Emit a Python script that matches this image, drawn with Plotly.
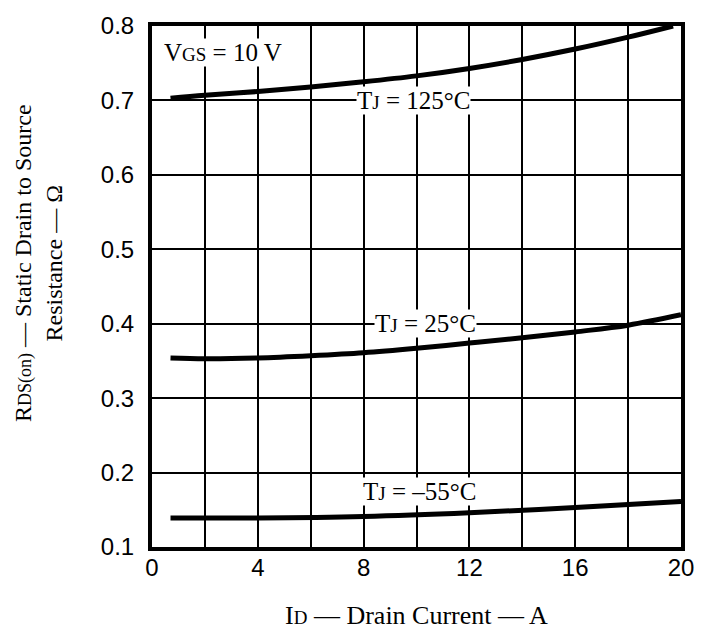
import plotly.graph_objects as go

# Data
id_125 = [0.7, 2, 4, 6, 8, 10, 12, 14, 16, 18, 19.7]
r_125 = [0.703, 0.707, 0.712, 0.718, 0.725, 0.733, 0.743, 0.755, 0.769, 0.785, 0.800]

id_25 = [0.7, 2, 4, 6, 8, 10, 12, 14, 16, 18, 20]
r_25 = [0.354, 0.353, 0.354, 0.357, 0.361, 0.367, 0.374, 0.381, 0.389, 0.398, 0.412]

id_m55 = [0.7, 4, 8, 12, 16, 20]
r_m55 = [0.139, 0.139, 0.141, 0.146, 0.153, 0.161]

x_ticks = [0, 4, 8, 12, 16, 20]
y_ticks = [0.1, 0.2, 0.3, 0.4, 0.5, 0.6, 0.7, 0.8]

SERIF = "Liberation Serif, Times New Roman, serif"
SANS = "Liberation Sans, Arial, sans-serif"

def sm(t, size):
    return f'<span style="font-size:{size}px">{t}</span>'

fig = go.Figure()
for xs, ys in [(id_125, r_125), (id_25, r_25), (id_m55, r_m55)]:
    fig.add_trace(go.Scatter(x=xs, y=ys, mode="lines",
                             line=dict(color="black", width=5, shape="spline"),
                             showlegend=False, hoverinfo="skip"))

annots = [
    dict(x=0.4, y=0.765, text="V" + sm("GS", 19) + " = 10 V", xanchor="left"),
    dict(x=9.9, y=0.70, text="T" + sm("J", 19) + " = 125°C", xanchor="center"),
    dict(x=10.35, y=0.40, text="T" + sm("J", 19) + " = 25°C", xanchor="center"),
    dict(x=10.1, y=0.174, text="T" + sm("J", 19) + " = –55°C", xanchor="center"),
]
for a in annots:
    fig.add_annotation(x=a["x"], y=a["y"], text=a["text"], xanchor=a["xanchor"],
                       yanchor="middle", showarrow=False, bgcolor="white",
                       borderpad=0,
                       font=dict(family=SERIF, size=25, color="black"))

# axis titles as annotations (positioned like the reference)
fig.add_annotation(xref="paper", yref="paper", x=0, y=0.545, xshift=-114,
                   text="R" + sm("DS(on)", 18) + " — Static Drain to Source<br>Resistance — Ω",
                   textangle=-90, showarrow=False, xanchor="center", yanchor="middle",
                   font=dict(family=SERIF, size=24, color="black"))
fig.add_annotation(xref="paper", yref="paper", x=0.5, y=0, yshift=-68,
                   text="I" + sm("D", 19) + " — Drain Current — A",
                   showarrow=False, xanchor="center", yanchor="middle",
                   font=dict(family=SERIF, size=26, color="black"))

fig.update_layout(
    width=706, height=632,
    margin=dict(l=152, r=23, t=15, b=85),
    paper_bgcolor="white", plot_bgcolor="white",
    xaxis=dict(range=[0, 20], tickvals=x_ticks, ticktext=[str(v) for v in x_ticks],
               showgrid=True, gridcolor="black", gridwidth=2,
               minor=dict(dtick=2, tick0=0, showgrid=True, gridcolor="black", gridwidth=2),
               showline=True, linecolor="black", linewidth=4, mirror=True,
               ticks="", ticklabelstandoff=-4, zeroline=False,
               ticklabeloverflow="allow",
               tickfont=dict(family=SANS, size=24, color="black")),
    yaxis=dict(range=[0.1, 0.8], tickvals=y_ticks, ticktext=[f"{v:.1f}" for v in y_ticks],
               showgrid=True, gridcolor="black", gridwidth=2,
               showline=True, linecolor="black", linewidth=4, mirror=True,
               ticks="", ticklabelstandoff=9, zeroline=False,
               ticklabeloverflow="allow",
               tickfont=dict(family=SANS, size=24, color="black")),
)

fig.write_html("out.html", config={"displayModeBar": False},
               post_script="document.body.style.margin='0';document.body.style.overflow='hidden';")
